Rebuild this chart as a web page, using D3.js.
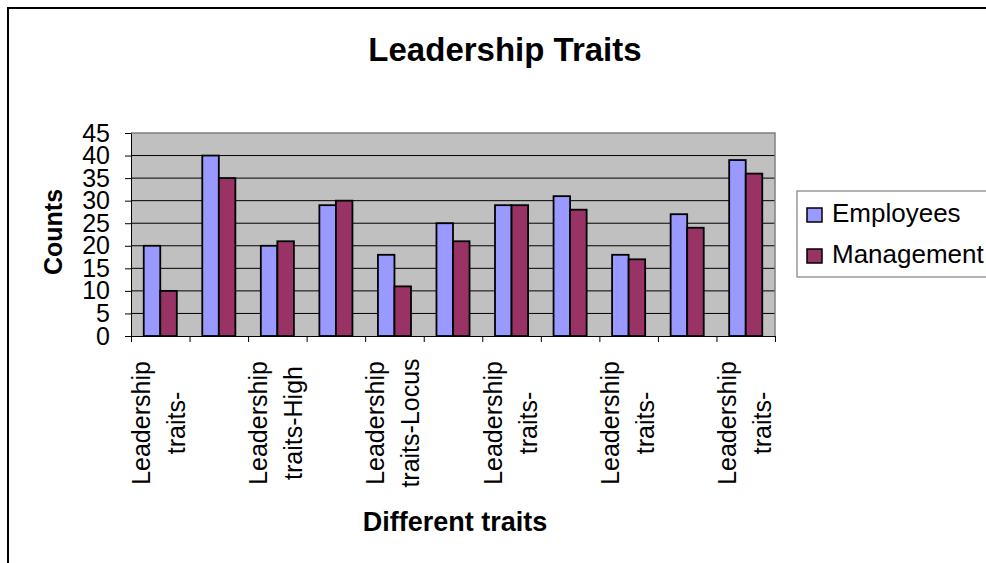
<!DOCTYPE html>
<html>
<head>
<meta charset="utf-8">
<script src="https://cdnjs.cloudflare.com/ajax/libs/d3/7.8.5/d3.min.js"></script>
<style>
  body { margin: 0; background: #fff; overflow: hidden; }
  svg { display: block; }
  text { font-family: "Liberation Sans", Arial, sans-serif; fill: #000; }
</style>
</head>
<body>
<div id="chart"></div>
<script>
// data
var categories = d3.range(11);
var tickLabels = [
  ["Leadership", "traits-"], null,
  ["Leadership", "traits-High"], null,
  ["Leadership", "traits-Locus"], null,
  ["Leadership", "traits-"], null,
  ["Leadership", "traits-"], null,
  ["Leadership", "traits-"]
];
var seriesNames = ["Employees", "Management"];
var employees  = [20, 40, 20, 29, 18, 25, 29, 31, 18, 27, 39];
var management = [10, 35, 21, 30, 11, 21, 29, 28, 17, 24, 36];
var yTicks = d3.range(0, 46, 5);

var W = 986, H = 563;
var plot = {left: 131, right: 775, top: 133, bottom: 336};

var svg = d3.select("#chart")
  .append("svg")
    .attr("width", W)
    .attr("height", H);

// outer chart frame (only top and left edges show)
svg.append("path")
  .attr("d", "M8," + H + "V8H" + W)
  .attr("fill", "none")
  .attr("stroke", "#000")
  .attr("stroke-width", 2);

// title
svg.append("text")
  .text("Leadership Traits")
  .attr("x", 505)
  .attr("y", 61)
  .attr("text-anchor", "middle")
  .style("font-size", "33px")
  .style("font-weight", "bold");

// scales
var x0 = d3.scaleBand()
  .domain(categories)
  .range([plot.left, plot.right])
  .padding(0);

var x1 = d3.scaleBand()
  .domain(seriesNames)
  .range([0, x0.bandwidth()])
  .paddingInner(0)
  .paddingOuter(0.77);

var xEdges = d3.scaleLinear()
  .domain([0, categories.length])
  .range([plot.left, plot.right]);

var y = d3.scaleLinear()
  .domain([0, 45])
  .range([plot.bottom, plot.top]);

var color = d3.scaleOrdinal()
  .domain(seriesNames)
  .range(["#9999FF", "#993366"]);

// plot area background
svg.append("rect")
  .attr("x", plot.left)
  .attr("y", plot.top)
  .attr("width", plot.right - plot.left)
  .attr("height", plot.bottom - plot.top)
  .attr("fill", "#C0C0C0");

// gridlines
svg.append("g")
  .selectAll("line")
  .data(yTicks.filter(function(d){ return d > 0 && d < 45; }))
  .enter().append("line")
    .attr("x1", plot.left).attr("x2", plot.right)
    .attr("y1", function(d){ return y(d); })
    .attr("y2", function(d){ return y(d); })
    .attr("stroke", "#000")
    .attr("stroke-width", 1);

// gray border top / right
svg.append("path")
  .attr("d", "M" + plot.left + "," + y(45) + "H" + plot.right + "V" + plot.bottom)
  .attr("fill", "none")
  .attr("stroke", "#808080")
  .attr("stroke-width", 1.5);

// bars
var rows = categories.map(function(c, i) {
  return {cat: c, values: [
    {key: "Employees", value: employees[i]},
    {key: "Management", value: management[i]}
  ]};
});

svg.append("g")
  .selectAll("g")
  .data(rows)
  .enter().append("g")
    .attr("transform", function(d){ return "translate(" + x0(d.cat) + ",0)"; })
  .selectAll("rect")
  .data(function(d){ return d.values; })
  .enter().append("rect")
    .attr("x", function(d){ return x1(d.key); })
    .attr("y", function(d){ return y(d.value); })
    .attr("width", x1.bandwidth())
    .attr("height", function(d){ return y(0) - y(d.value); })
    .attr("fill", function(d){ return color(d.key); })
    .attr("stroke", "#000")
    .attr("stroke-width", 1.8);

// y axis
var yAxis = svg.append("g")
  .attr("transform", "translate(" + plot.left + ",0)")
  .call(d3.axisLeft(y).tickValues(yTicks).tickSize(6).tickPadding(15).tickSizeOuter(0));
yAxis.selectAll("text").style("font-size", "25px").attr("fill", "#000");
yAxis.selectAll("line, path").attr("stroke", "#000");

// x axis (ticks between categories)
var xAxis = svg.append("g")
  .attr("transform", "translate(0," + plot.bottom + ")")
  .call(d3.axisBottom(xEdges).tickValues(d3.range(categories.length + 1)).tickSize(6).tickSizeOuter(0).tickFormat(""));
xAxis.selectAll("line, path").attr("stroke", "#000");

// category labels, rotated, two lines
var lab = svg.append("g")
  .selectAll("g")
  .data(categories.filter(function(c){ return tickLabels[c]; }))
  .enter().append("g")
    .attr("transform", function(c){
      return "translate(" + (x0(c) + x0.bandwidth() / 2) + ",423) rotate(-90)";
    });
lab.selectAll("text")
  .data(function(c){ return tickLabels[c]; })
  .enter().append("text")
    .text(function(d){ return d; })
    .attr("x", 0)
    .attr("y", function(d, i){ return -10 + i * 35; })
    .attr("text-anchor", "middle")
    .style("font-size", "25px");

// axis titles
svg.append("text")
  .text("Counts")
  .attr("transform", "translate(62,232) rotate(-90)")
  .attr("text-anchor", "middle")
  .style("font-size", "25px")
  .style("font-weight", "bold");

svg.append("text")
  .text("Different traits")
  .attr("x", 455)
  .attr("y", 531)
  .attr("text-anchor", "middle")
  .style("font-size", "27px")
  .style("font-weight", "bold");

// legend
var legend = svg.append("g").attr("transform", "translate(797,191)");
legend.append("rect")
  .attr("width", 200).attr("height", 86)
  .attr("fill", "#fff")
  .attr("stroke", "#808080")
  .attr("stroke-width", 1.2);
var item = legend.selectAll(".item")
  .data(seriesNames)
  .enter().append("g")
    .attr("class", "item")
    .attr("transform", function(d, i){ return "translate(10," + (17 + i * 41) + ")"; });
item.append("rect")
  .attr("width", 15).attr("height", 14)
  .attr("fill", function(d){ return color(d); })
  .attr("stroke", "#000")
  .attr("stroke-width", 1.5);
item.append("text")
  .text(function(d){ return d; })
  .attr("x", 25)
  .attr("y", 14)
  .style("font-size", "26px");
</script>
</body>
</html>
